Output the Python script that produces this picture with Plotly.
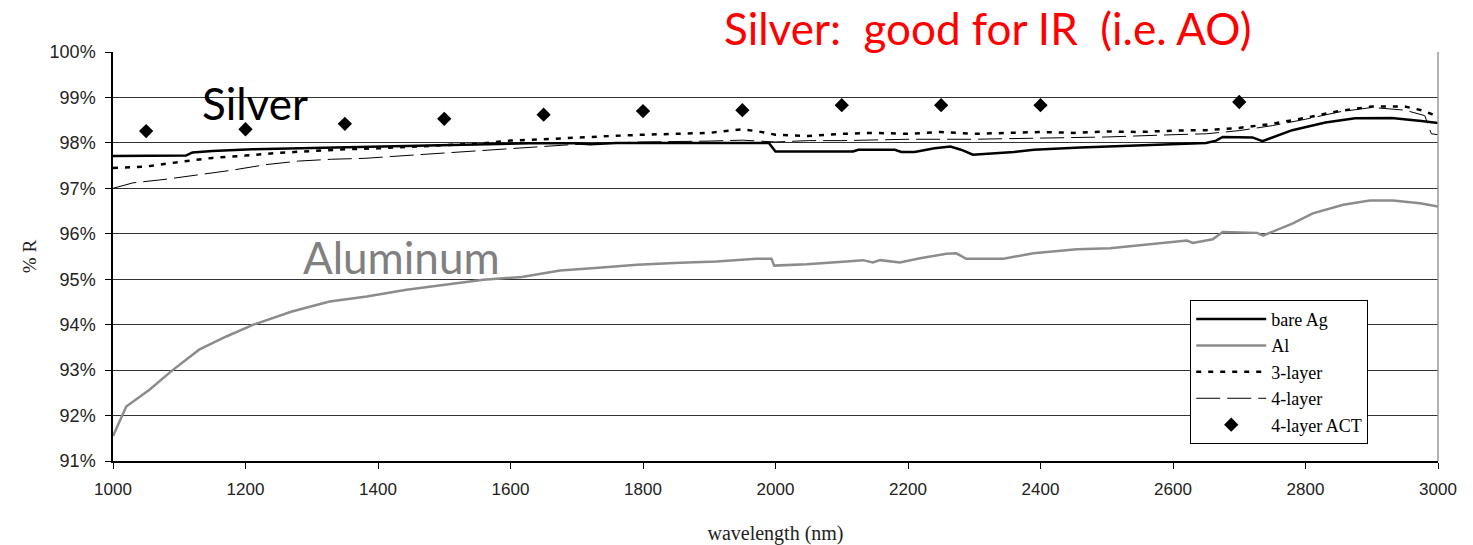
import plotly.graph_objects as go

# ---- data ----
ag_x = [1000, 1110, 1120, 1150, 1210, 1280, 1380, 1530, 1630, 1700, 1720, 1760, 1990, 2000,
        2117, 2125, 2180, 2190, 2210, 2240, 2264, 2280, 2298, 2360, 2390, 2460, 2550, 2650,
        2665, 2675, 2720, 2735, 2780, 2830, 2875, 2930, 2975, 3000]
ag_y = [97.71, 97.72, 97.79, 97.82, 97.86, 97.88, 97.92, 97.95, 97.99, 97.99, 97.97, 98.0, 98.0, 97.81,
        97.81, 97.85, 97.85, 97.8, 97.8, 97.88, 97.92, 97.85, 97.74, 97.8, 97.85, 97.9, 97.95, 98.0,
        98.05, 98.13, 98.12, 98.04, 98.28, 98.45, 98.54, 98.55, 98.48, 98.44]

al_x = [1000, 1020, 1055, 1090, 1130, 1171, 1212, 1270, 1327, 1383, 1443, 1501, 1559, 1617, 1675,
        1733, 1791, 1856, 1911, 1971, 1994, 1998, 2047, 2107, 2132, 2147, 2158, 2188, 2218, 2258,
        2273, 2288, 2344, 2389, 2419, 2455, 2505, 2580, 2621, 2630, 2660, 2675, 2727, 2736, 2751,
        2781, 2811, 2857, 2897, 2932, 2973, 3000]
al_y = [91.55, 92.2, 92.57, 93.0, 93.45, 93.74, 94.0, 94.29, 94.51, 94.62, 94.77, 94.88, 94.99, 95.05, 95.19,
        95.25, 95.32, 95.36, 95.39, 95.45, 95.45, 95.3, 95.33, 95.39, 95.42, 95.37, 95.42, 95.37, 95.46, 95.56,
        95.57, 95.45, 95.45, 95.57, 95.61, 95.66, 95.68, 95.79, 95.85, 95.8, 95.88, 96.04, 96.02, 95.96, 96.05,
        96.23, 96.45, 96.64, 96.73, 96.73, 96.67, 96.6]

l3_x = [1000, 1050, 1100, 1150, 1200, 1250, 1300, 1350, 1400, 1450, 1500, 1550, 1600, 1650, 1700,
        1750, 1800, 1850, 1900, 1950, 1975, 2000, 2050, 2100, 2150, 2200, 2250, 2300, 2350, 2400,
        2450, 2500, 2550, 2600, 2650, 2700, 2750, 2800, 2850, 2900, 2950, 2975, 3000]
l3_y = [97.45, 97.48, 97.58, 97.67, 97.72, 97.78, 97.82, 97.86, 97.88, 97.92, 97.95, 97.98, 98.05, 98.08, 98.12,
        98.15, 98.18, 98.2, 98.22, 98.3, 98.25, 98.18, 98.15, 98.2, 98.22, 98.2, 98.24, 98.2, 98.22, 98.24,
        98.22, 98.25, 98.24, 98.27, 98.28, 98.33, 98.42, 98.55, 98.7, 98.8, 98.8, 98.72, 98.58]

l4_x = [1000, 1030, 1080, 1130, 1180, 1230, 1280, 1330, 1380, 1430, 1480, 1530, 1580, 1630, 1680,
        1730, 1800, 1900, 1950, 2000, 2050, 2100, 2200, 2300, 2400, 2500, 2600, 2650, 2700, 2750,
        2800, 2850, 2900, 2950, 2980, 2990, 3000]
l4_y = [97.0, 97.12, 97.2, 97.3, 97.4, 97.52, 97.6, 97.64, 97.66, 97.71, 97.76, 97.81, 97.85, 97.9, 97.95,
        97.99, 98.02, 98.04, 98.06, 98.02, 98.05, 98.05, 98.08, 98.08, 98.1, 98.13, 98.18, 98.2, 98.27, 98.38,
        98.52, 98.68, 98.78, 98.72, 98.6, 98.2, 98.18]

act_x = [1050, 1200, 1350, 1500, 1650, 1800, 1950, 2100, 2250, 2400, 2700]
act_y = [98.26, 98.3, 98.42, 98.53, 98.62, 98.7, 98.72, 98.83, 98.83, 98.83, 98.9]

y_ticks = [91, 92, 93, 94, 95, 96, 97, 98, 99, 100]
y_tick_labels = ["91%", "92%", "93%", "94%", "95%", "96%", "97%", "98%", "99%", "100%"]
x_ticks = [1000, 1200, 1400, 1600, 1800, 2000, 2200, 2400, 2600, 2800, 3000]

serif = "Liberation Serif, Times New Roman, serif"
sans = "Liberation Sans, Arial, sans-serif"
callout = "Lato, sans-serif"

fig = go.Figure()
fig.add_trace(go.Scatter(x=ag_x, y=ag_y, mode="lines", name="bare Ag",
                         line=dict(color="black", width=2.5)))
fig.add_trace(go.Scatter(x=al_x, y=al_y, mode="lines", name="Al",
                         line=dict(color="#8c8c8c", width=2.5)))
fig.add_trace(go.Scatter(x=l3_x, y=l3_y, mode="lines", name="3-layer",
                         line=dict(color="black", width=2.5, dash="5px,7px")))
fig.add_trace(go.Scatter(x=l4_x, y=l4_y, mode="lines", name="4-layer",
                         line=dict(color="black", width=1, dash="24px,7px")))
fig.add_trace(go.Scatter(x=act_x, y=act_y, mode="markers", name="4-layer ACT",
                         marker=dict(symbol="diamond", color="black", size=11)))

fig.update_layout(
    width=1473, height=545,
    margin=dict(l=113, r=35, t=52, b=84),
    paper_bgcolor="white", plot_bgcolor="white",
    showlegend=True,
    legend=dict(x=0.813, y=0.394, xanchor="left", yanchor="top",
                bordercolor="black", borderwidth=1, bgcolor="white",
                font=dict(family=serif, size=18, color="black"),
                itemwidth=70, tracegroupgap=0),
    xaxis=dict(range=[1000, 3000], tickvals=x_ticks, showgrid=False,
               showline=True, linecolor="black", linewidth=1.5,
               ticks="outside", ticklen=6, tickcolor="black",
               ticklabelstandoff=6, automargin=False,
               tickfont=dict(family=sans, size=17, color="#222"),
               title=dict(text="wavelength (nm)", font=dict(family=serif, size=20, color="#222"),
                          standoff=32),
               zeroline=False),
    yaxis=dict(range=[91, 100], tickvals=y_ticks, ticktext=y_tick_labels,
               showgrid=True, gridcolor="#333", gridwidth=1.3,
               showline=True, linecolor="black", linewidth=1.5,
               ticks="outside", ticklen=6, tickcolor="black",
               ticklabelstandoff=6, automargin=False,
               tickfont=dict(family=sans, size=18, color="#222"),
               title=dict(text="% R", font=dict(family=serif, size=19, color="#222"),
                          standoff=8),
               zeroline=False),
    shapes=[dict(type="line", xref="paper", yref="paper", x0=1, x1=1, y0=0, y1=1,
                 line=dict(color="#999", width=1.5))],
    annotations=[
        dict(text="Silver:\u00a0 good for IR\u00a0 (i.e. AO)", xref="paper", yref="paper",
             x=0.66, y=1.127, xanchor="center", yanchor="top", showarrow=False,
             font=dict(family=callout, size=44, color="red")),
        dict(text="Silver", x=1214, y=98.88, xanchor="center", yanchor="middle", showarrow=False,
             font=dict(family=callout, size=44, color="black")),
        dict(text="Aluminum", x=1435, y=95.5, xanchor="center", yanchor="middle", showarrow=False,
             font=dict(family=callout, size=44, color="#808080")),
    ],
)

fig.write_html("out.html", config={"displayModeBar": False},
               post_script="document.body.style.margin='0';")
